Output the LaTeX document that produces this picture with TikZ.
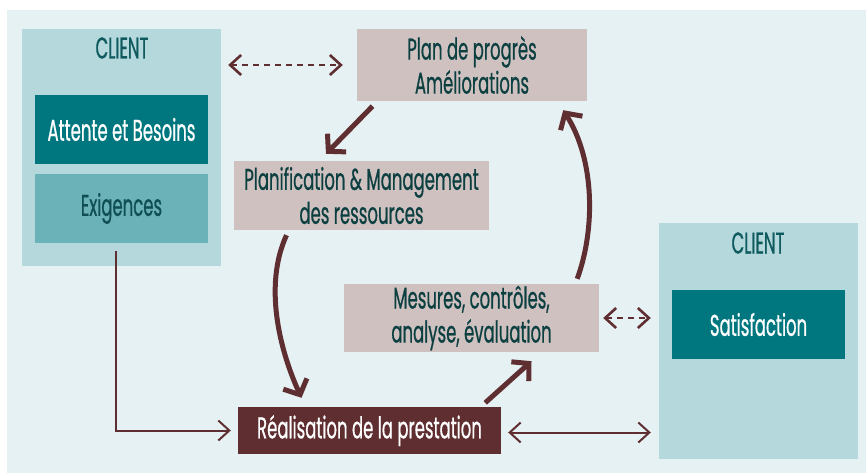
\documentclass[tikz,border=0pt]{standalone}
\usepackage{fontspec}
\setmainfont{Poppins}[FakeStretch=0.55,FakeBold=0.6]
\usetikzlibrary{arrows.meta,calc}
\definecolor{bgc}{HTML}{E6F1F3}
\definecolor{clientc}{HTML}{B4D8DC}
\definecolor{tealc}{HTML}{00777F}
\definecolor{exigc}{HTML}{6BB1B8}
\definecolor{pinkc}{HTML}{D0C1C1}
\definecolor{maroonc}{HTML}{5E2E31}
\definecolor{darktxt}{HTML}{0B3F40}
\definecolor{clienttxt}{HTML}{0E5A5E}
\definecolor{exigtxt}{HTML}{0F4E53}
\tikzset{
  txt/.style={font=\fontsize{30}{34}\selectfont, align=center},
  box/.style={rectangle, inner sep=0pt, txt},
  clientbox/.style={box, fill=clientc},
  tealbox/.style={box, fill=tealc, text=white, minimum width=173pt, minimum height=69pt},
  exigbox/.style={box, fill=exigc, text=exigtxt, minimum width=173pt, minimum height=69pt},
  pinkbox/.style={box, fill=pinkc, text=darktxt},
  maroonbox/.style={box, fill=maroonc, text=white},
  thinarrow/.style={draw=maroonc, line width=2pt, {Straight Barb[length=11pt,width=20pt]}-{Straight Barb[length=11pt,width=20pt]}},
  thinto/.style={draw=maroonc, line width=2pt, -{Straight Barb[length=11pt,width=20pt]}},
  dasharrow/.style={thinarrow, line width=2.6pt, dash pattern=on 6pt off 5pt},
  thickarrow/.style={draw=maroonc, line width=5pt, -{Straight Barb[length=12pt,width=26pt]}}
}
\begin{document}
\begin{tikzpicture}[x=1pt,y=-1pt]
\fill[white] (0,0) rectangle (866,473);
\fill[bgc] (7,10) rectangle (866,473);
\useasboundingbox (0,0) rectangle (866,473);

% left client
\node[clientbox, minimum width=199pt, minimum height=237pt] (clientL) at (121.5,147.5) {};
\node[txt, text=clienttxt] (clientLt) at (122,48) {CLIENT};
\node[tealbox] (attente) at (121.5,129.5) {Attente et Besoins};
\node[exigbox] (exig) at (121.5,208.5) {Exigences};

% right client
\node[clientbox, minimum width=199pt, minimum height=236pt] (clientR) at (758.5,341) {};
\node[txt, text=clienttxt] (clientRt) at (758,243) {CLIENT};
\node[tealbox] (satisf) at (758.5,324.5) {Satisfaction};

% process boxes
\node[pinkbox, minimum width=230pt, minimum height=72pt] (plan) at (472,65) {Plan de progrès\\Améliorations};
\node[pinkbox, minimum width=255pt, minimum height=69pt] (planif) at (361.5,195.5) {Planification \& Management\\des ressources};
\node[pinkbox, minimum width=255pt, minimum height=68pt] (mesures) at (471.5,318) {Mesures, contrôles,\\analyse, évaluation};
\node[maroonbox, minimum width=263pt, minimum height=47pt] (real) at (369.5,430.5) {Réalisation de la prestation};

% dashed connectors
\draw[dasharrow, shorten <=7pt, shorten >=14pt] (clientL.east |- plan.west) -- (plan.west);
\draw[dasharrow, shorten <=4pt, shorten >=8pt] (mesures.east) -- (mesures.east -| clientR.west);

% thin connectors
\coordinate (exstart) at ($(exig.south)+(-5.5,8)$);
\draw[thinto, shorten >=7pt] (exstart) |- (real.west);
\draw[thinarrow, shorten <=7pt, shorten >=8pt] ([yshift=-2pt]real.east) -- ([yshift=-2pt]real.east -| clientR.west);

% thick cycle arrows
\draw[thickarrow] ($(plan.south west)+(15.7,5)$) -- ($(planif.north)+(-35.5,-7)$);
\draw[thickarrow] ($(planif.south west)+(52.7,5)$) .. controls +(-23,50) and +(-22,-48) .. ($(real.north west)+(63.7,-9)$);
\draw[thickarrow] ($(real.north east)+(-16,-4)$) -- ($(mesures.south)+(60,9)$);
\draw[thickarrow] ($(mesures.north east)+(-22,-5)$) .. controls +(18,-49) and +(32,50) .. ($(plan.south east)+(-24,9)$);
\end{tikzpicture}
\end{document}
